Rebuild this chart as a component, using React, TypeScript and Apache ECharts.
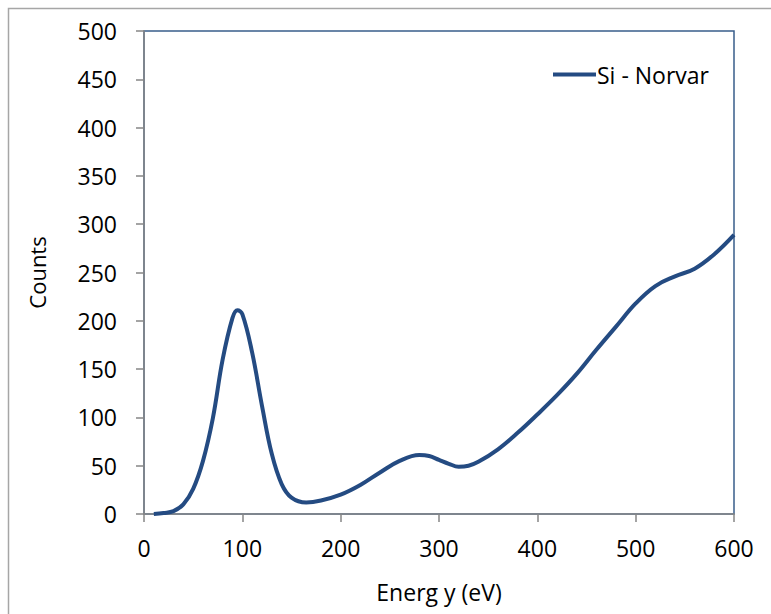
import React, { useEffect, useRef } from "react";
import * as echarts from "echarts";

const seriesName = "Si - Norvar";
const energy = [10, 20, 30, 40, 50, 60, 70, 80, 90, 95, 100, 110, 120, 130, 140, 150, 165, 180, 200, 220, 240, 260, 280, 290, 300, 310, 320, 330, 340, 360, 380, 400, 420, 440, 460, 480, 500, 520, 540, 560, 580, 600];
const counts = [0, 1, 3, 10, 26, 55, 99, 160, 203, 211, 207, 167, 112, 62, 31, 17, 12, 14, 20, 30, 43, 55, 61, 60, 56, 52, 49, 50, 54, 67, 84, 103, 123, 145, 170, 194, 218, 236, 246, 254, 269, 289];
const xTicks = [0, 100, 200, 300, 400, 500, 600];
const yTicks = [0, 50, 100, 150, 200, 250, 300, 350, 400, 450, 500];

const FONT = "Open Sans";
const LINE_COLOR = "#244B82";
const AXIS_COLOR = "#868686";

export default function App() {
  const ref = useRef<HTMLDivElement>(null);
  useEffect(() => {
    if (!ref.current) return;
    const chart = echarts.init(ref.current, null, { renderer: "svg" });
    const data = energy.map((e, i) => [e, counts[i]]);
    chart.setOption({
      animation: false,
      backgroundColor: "#ffffff",
      textStyle: { fontFamily: FONT },
      graphic: [
        {
          type: "rect",
          shape: { x: 8.5, y: 8.5, width: 900, height: 900 },
          style: { fill: "none", stroke: "#a6a6a6", lineWidth: 1.5 },
          silent: true,
        },
      ],
      grid: {
        left: 144,
        right: 37,
        top: 31,
        bottom: 100,
        show: true,
        borderColor: "#385D8A",
        borderWidth: 1.5,
        backgroundColor: "transparent",
      },
      legend: {
        data: [{ name: seriesName, icon: "rect" }],
        left: 548,
        top: 58,
        itemWidth: 43,
        itemHeight: 4,
        itemGap: 0,
        itemStyle: { color: LINE_COLOR, borderWidth: 0 },
        textStyle: { fontFamily: FONT, fontSize: 23, color: "#000", padding: [0, 0, 0, -4] },
      },
      xAxis: {
        type: "value",
        min: xTicks[0],
        max: xTicks[xTicks.length - 1],
        interval: 100,
        name: "Energ y (eV)",
        nameLocation: "middle",
        nameGap: 66,
        nameTextStyle: { fontFamily: FONT, fontSize: 23, color: "#000" },
        axisLine: { show: true, lineStyle: { color: AXIS_COLOR, width: 1.5 } },
        axisTick: { show: true, length: 8, inside: false, lineStyle: { color: AXIS_COLOR, width: 1.5 } },
        axisLabel: { margin: 22, fontFamily: FONT, fontSize: 23, color: "#000" },
        splitLine: { show: false },
      },
      yAxis: {
        type: "value",
        min: yTicks[0],
        max: yTicks[yTicks.length - 1],
        interval: 50,
        name: "Counts",
        nameLocation: "middle",
        nameGap: 96,
        nameTextStyle: { fontFamily: FONT, fontSize: 22, color: "#000" },
        axisLine: { show: true, lineStyle: { color: AXIS_COLOR, width: 1.5 } },
        axisTick: { show: true, length: 8, inside: false, lineStyle: { color: AXIS_COLOR, width: 1.5 } },
        axisLabel: { margin: 27, fontFamily: FONT, fontSize: 23, color: "#000" },
        splitLine: { show: false },
      },
      series: [
        {
          name: seriesName,
          type: "line",
          data,
          smooth: 0.4,
          symbol: "none",
          showSymbol: false,
          lineStyle: { color: LINE_COLOR, width: 4 },
          itemStyle: { color: LINE_COLOR },
          clip: false,
        },
      ],
    });
    return () => chart.dispose();
  }, []);
  return (
    <div
      ref={ref}
      style={{ position: "fixed", left: 0, top: 0, width: 771, height: 614 }}
    />
  );
}
